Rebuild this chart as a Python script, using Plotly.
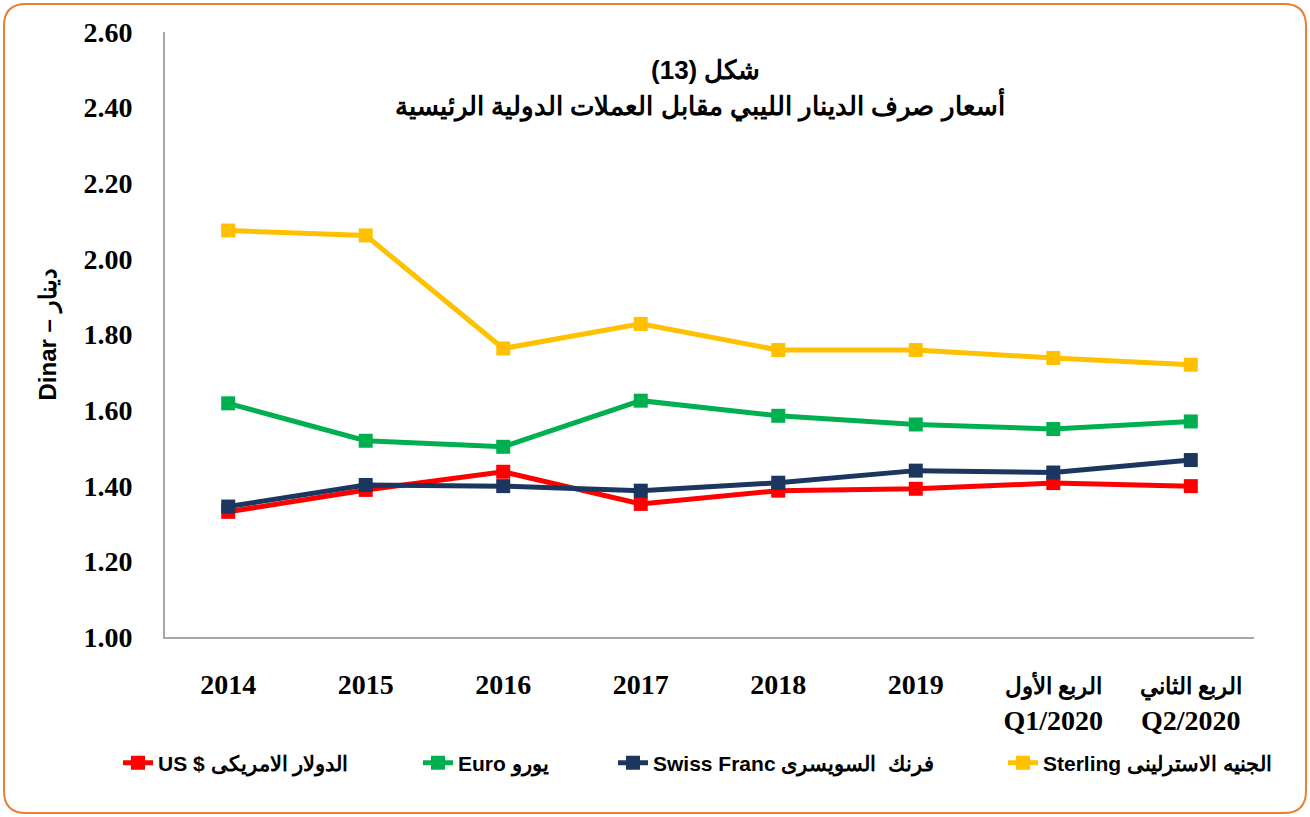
import plotly.graph_objects as go

# categories (x axis)
periods = ["2014", "2015", "2016", "2017", "2018", "2019",
           "<span style='font-size:23px'>الربع الأول</span><br>Q1/2020",
           "<span style='font-size:23px'>الربع الثاني</span><br>Q2/2020"]

# exchange rates of the Libyan dinar
usd = [1.331, 1.389, 1.437, 1.352, 1.387, 1.392, 1.407, 1.399]
euro = [1.618, 1.519, 1.503, 1.625, 1.585, 1.562, 1.550, 1.570]
chf = [1.345, 1.402, 1.399, 1.387, 1.408, 1.440, 1.435, 1.468]
gbp = [2.075, 2.062, 1.763, 1.828, 1.759, 1.759, 1.738, 1.720]

names = ["US $ الدولار الامريكى", "Euro يورو",
         "Swiss Franc فرنك  السويسرى", "Sterling الجنيه الاسترلينى"]
colors = ["#FF0000", "#00B050", "#1B365F", "#FFC000"]
legend_ids = ["legend", "legend2", "legend3", "legend4"]
legend_left = [118, 418, 613, 1003]   # pixel x of each legend entry

W, H = 1310, 817
# plot area in pixels
L, R, T, B = 165, 1254, 32, 637


def px_x(p):
    return (p - L) / (R - L)


def px_y(p):
    return (B - p) / (B - T)


fig = go.Figure()

for name, vals, col, lg in zip(names, [usd, euro, chf, gbp], colors, legend_ids):
    fig.add_trace(go.Scatter(x=periods, y=vals, name="<b>" + name + "</b>", mode="lines+markers",
                             legend=lg, line=dict(color=col, width=5),
                             marker=dict(symbol="square", size=14, color=col)))

# rounded orange frame around the whole chart
x0, x1, y0, y1, r = 4, 1306, 4, 813, 22
path = (f"M {px_x(x0 + r)},{px_y(y0)} L {px_x(x1 - r)},{px_y(y0)} "
        f"Q {px_x(x1)},{px_y(y0)} {px_x(x1)},{px_y(y0 + r)} "
        f"L {px_x(x1)},{px_y(y1 - r)} Q {px_x(x1)},{px_y(y1)} {px_x(x1 - r)},{px_y(y1)} "
        f"L {px_x(x0 + r)},{px_y(y1)} Q {px_x(x0)},{px_y(y1)} {px_x(x0)},{px_y(y1 - r)} "
        f"L {px_x(x0)},{px_y(y0 + r)} Q {px_x(x0)},{px_y(y0)} {px_x(x0 + r)},{px_y(y0)} Z")
fig.add_shape(type="path", path=path, xref="paper", yref="paper",
              line=dict(color="#ED7D31", width=2))

title_font = dict(family="Arial, Liberation Sans", size=26, color="black")
fig.add_annotation(text="<b>شكل (13)</b>", x=px_x(705), y=px_y(70), xref="paper", yref="paper",
                   xanchor="center", yanchor="middle", showarrow=False, font=title_font)
fig.add_annotation(text="<b>أسعار صرف الدينار الليبي مقابل العملات الدولية الرئيسية</b>",
                   x=px_x(700), y=px_y(105), xref="paper", yref="paper",
                   xanchor="center", yanchor="middle", showarrow=False, font=title_font)

tick_font = dict(family="Liberation Serif, Times New Roman", size=28, color="black")
legend_font = dict(family="Arial, Liberation Sans", size=21, color="black")

fig.update_layout(
    width=W, height=H,
    margin=dict(l=L, r=W - R, t=T, b=H - B),
    plot_bgcolor="white", paper_bgcolor="white",
    showlegend=True,
)
for lg, lx in zip(legend_ids, legend_left):
    fig.update_layout({lg: dict(orientation="h", x=px_x(lx), y=px_y(763), xanchor="left",
                                yanchor="middle", font=legend_font, bgcolor="rgba(0,0,0,0)")})

fig.update_xaxes(type="category", showline=True, linecolor="#A6A6A6", linewidth=2,
                 showgrid=False, ticks="", tickfont=tick_font, ticklabelstandoff=21)
fig.update_yaxes(range=[1.0, 2.6], dtick=0.2, tickformat=".2f", showline=True,
                 linecolor="#A6A6A6", linewidth=2, showgrid=False, zeroline=False,
                 ticks="", tickfont=tick_font, ticklabelstandoff=25,
                 title=dict(text="<b>Dinar – دينار</b>", standoff=20,
                            font=dict(family="Arial, Liberation Sans", size=24, color="black")))

# bold tick labels
fig.update_xaxes(tickprefix="<b>", ticksuffix="</b>")
fig.update_yaxes(tickprefix="<b>", ticksuffix="</b>")

fig.write_html("out.html", config={"displayModeBar": False},
               post_script="document.body.style.margin='0';")
